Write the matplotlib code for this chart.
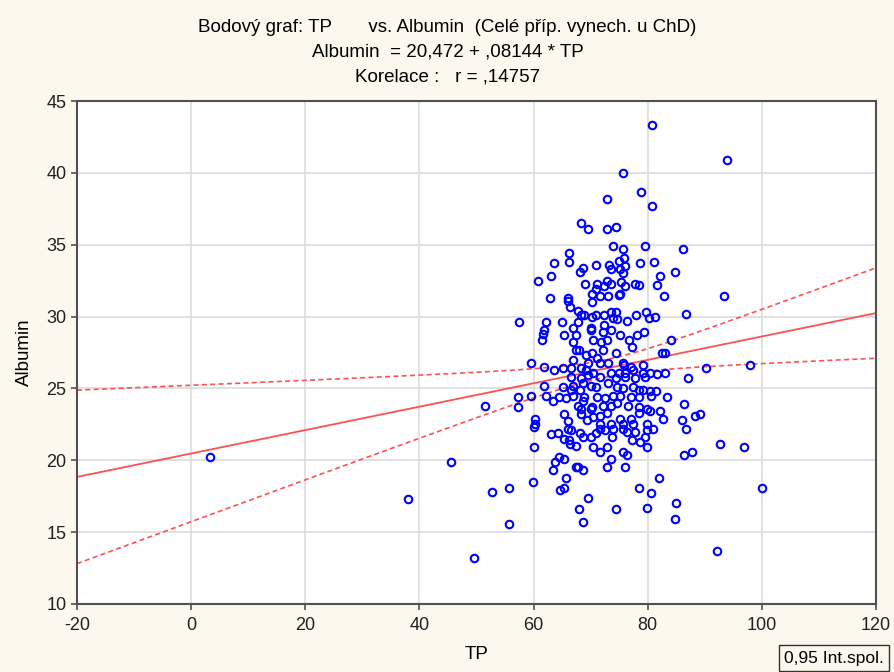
import numpy as np
import matplotlib
matplotlib.use('Agg')
import matplotlib.pyplot as plt

# TP / Albumin values
tp = [3.3, 38.0, 45.6, 49.6, 52.8, 51.5, 55.7, 55.7, 57.3, 57.5, 57.3, 59.6, 59.6,
      80.7, 93.9, 75.7, 78.9, 80.8, 72.8, 68.3, 69.5, 72.8, 74.5,
      93.3, 98.0, 96.8, 100.0, 92.1, 92.6, 90.2, 88.3, 89.2,
      73.9, 75.6, 79.6, 86.2, 66.2, 75.9, 74.9, 66.2, 63.6, 68.6, 70.9, 73.3, 76.1,
      78.7, 81.1, 68.1, 73.5, 75.2, 75.7, 84.8, 63.0, 60.8, 82.2, 71.2, 72.8, 73.5,
      75.4, 77.8, 78.5, 81.7, 69.0, 72.3, 76.1, 70.9, 70.2, 75.2, 75.0, 71.7, 73.0,
      82.9, 62.9, 66.0, 66.0, 70.2, 66.4, 67.7, 68.3, 68.8, 70.2, 71.0, 72.3, 73.5,
      74.5, 74.0, 74.7, 76.4, 78.0, 79.7, 80.3, 81.3, 86.7, 62.2, 64.9, 67.7, 72.3, 70.0,
      61.8, 61.4, 61.6, 65.3, 66.9, 67.4, 70.0, 70.5, 72.1, 72.8, 73.5, 75.2, 76.8,
      77.3, 78.2, 79.4, 84.1, 66.9, 67.4, 67.9, 71.9, 72.1, 69.1, 70.3, 71.2, 74.5,
      66.9, 69.6, 71.7, 73.1, 75.7, 77.0, 75.9, 79.2, 83.1, 82.5, 61.8, 65.1, 66.5,
      63.6, 68.3, 69.1, 70.5, 73.5, 74.9, 76.1, 77.5, 79.2, 80.4, 81.6, 83.1, 87.1,
      66.5, 68.3, 69.6, 71.7, 74.4, 76.1, 77.7, 79.6, 61.8, 65.1, 66.9, 68.6, 70.0,
      70.9, 73.0, 74.7, 75.7, 77.5, 78.4, 79.2, 66.5, 68.1, 62.2, 64.4, 63.4, 65.6,
      66.9, 68.8, 68.6, 71.2, 72.6, 73.9, 75.2, 77.0, 78.4, 80.4, 81.5, 80.6, 83.4,
      67.7, 68.3, 70.3, 72.1, 73.5, 74.7, 76.6, 78.4, 79.9, 86.4, 65.3, 68.3, 70.0,
      70.5, 71.7, 72.8, 75.2, 77.0, 78.4, 80.4, 82.2, 82.7, 86.0, 60.2, 60.2, 66.0,
      69.3, 71.7, 73.5, 75.7, 77.5, 79.9,
      60.0, 63.0, 64.3, 65.3, 66.0, 66.5, 66.2, 66.4, 67.4, 68.1, 68.6, 70.0, 70.9,
      71.7, 72.6, 73.7, 74.0, 75.7, 76.4, 77.8, 77.3, 78.7, 79.6, 79.9, 81.0, 86.7,
      60.0, 70.5, 71.6, 72.8, 75.7, 76.4, 79.9, 86.4, 87.8, 64.4, 65.3, 63.8, 73.5,
      63.4, 67.4, 67.7, 68.6, 72.8, 76.1, 59.9, 65.6, 64.6, 65.3, 69.5, 67.9, 68.6,
      74.5, 78.4, 80.6, 81.9, 79.9, 85.0, 84.7]

albumin = [20.2, 17.3, 19.9, 13.2, 17.8, 23.8, 18.1, 15.6, 23.7, 29.6, 24.4, 24.5, 26.8,
           43.3, 40.9, 40.0, 38.7, 37.7, 38.2, 36.5, 36.1, 36.1, 36.2,
           31.4, 26.6, 20.9, 18.1, 13.7, 21.1, 26.4, 23.1, 23.2,
           34.9, 34.7, 34.9, 34.7, 34.4, 34.1, 33.9, 33.8, 33.7, 33.4, 33.6, 33.6, 33.5,
           33.7, 33.8, 33.1, 33.3, 33.3, 33.0, 33.1, 32.8, 32.5, 32.8, 32.3, 32.5, 32.3,
           32.4, 32.3, 32.2, 32.2, 32.3, 32.1, 32.1, 31.9, 31.6, 31.6, 31.5, 31.4, 31.4,
           31.4, 31.3, 31.3, 31.1, 31.0, 30.7, 30.4, 30.1, 30.1, 30.0, 30.1, 30.1, 30.3,
           30.3, 29.9, 29.8, 29.7, 30.1, 30.3, 29.9, 30.0, 30.2, 29.6, 29.6, 29.6, 29.4, 29.2,
           29.1, 28.4, 28.8, 28.7, 29.2, 28.7, 29.1, 28.4, 28.9, 28.4, 29.1, 28.7, 28.4,
           27.9, 28.7, 28.9, 28.4, 28.2, 27.7, 27.7, 28.2, 27.7, 27.3, 27.5, 27.1, 27.5,
           27.0, 26.8, 26.8, 26.8, 26.8, 26.5, 26.6, 26.6, 27.5, 27.5, 26.5, 26.4, 26.4,
           26.3, 26.4, 26.3, 26.1, 26.1, 26.1, 26.1, 26.3, 26.1, 26.1, 26.0, 26.1, 25.7,
           25.8, 25.7, 25.9, 25.8, 25.7, 25.8, 25.7, 25.8, 25.2, 25.1, 25.2, 25.4, 25.2,
           25.1, 25.4, 25.1, 25.0, 25.1, 24.9, 24.9, 24.9, 24.9, 24.5, 24.4, 24.1, 24.3,
           24.5, 24.4, 24.1, 24.4, 24.3, 24.5, 24.5, 24.4, 24.4, 24.8, 24.8, 24.5, 24.4,
           23.8, 23.6, 23.7, 23.8, 23.8, 24.0, 23.8, 23.7, 23.6, 23.9, 23.2, 23.2, 23.6,
           23.0, 23.1, 23.3, 22.9, 22.9, 23.3, 23.4, 23.4, 22.9, 22.8, 22.9, 22.5, 22.7,
           22.8, 22.5, 22.5, 22.5, 22.5, 22.5,
           22.3, 21.8, 21.9, 21.5, 22.2, 22.1, 21.4, 21.1, 21.0, 21.9, 21.6, 21.6, 21.9,
           22.2, 22.1, 21.6, 22.2, 22.2, 22.0, 22.0, 21.4, 21.3, 21.6, 22.1, 22.2, 22.2,
           20.9, 20.9, 20.6, 20.9, 20.6, 20.4, 20.9, 20.4, 20.6, 20.2, 20.1, 19.9, 20.1,
           19.3, 19.5, 19.5, 19.3, 19.5, 19.5, 18.5, 18.8, 17.9, 18.1, 17.4, 16.6, 15.7,
           16.6, 18.1, 17.7, 18.8, 16.7, 17.0, 15.9]

# regression from the chart title
intercept = 20.472
slope = 0.08144
conf = 0.95
t_val = 1.968

bg = '#fdf8ee'
blue = '#0000ff'
red = '#ff5050'

x = np.array(tp)
y = np.array(albumin)
n = len(x)
resid = y - (intercept + slope * x)
s = np.sqrt(np.sum(resid ** 2) / (n - 2))
sxx = np.sum((x - x.mean()) ** 2)

xs = np.linspace(-20, 120, 300)
fit = intercept + slope * xs
half = t_val * s * np.sqrt(1.0 / n + (xs - x.mean()) ** 2 / sxx)

plt.rcParams['font.family'] = ['Liberation Sans', 'DejaVu Sans']
plt.rcParams['axes.unicode_minus'] = False

fig = plt.figure(figsize=(8.95, 6.72), dpi=100, facecolor=bg)
ax = fig.add_axes([77 / 895, 1 - 604 / 672, 799 / 895, 503 / 672])
ax.set_facecolor('white')

ax.plot(x, y, 'o', mfc='none', mec=blue, ms=5.4, mew=1.5, zorder=3)
ax.plot(xs, fit, '-', color=red, lw=1.3, zorder=2)
ax.plot(xs, fit + half, '--', color=red, lw=1.2, dashes=(3, 2), zorder=2)
ax.plot(xs, fit - half, '--', color=red, lw=1.2, dashes=(3, 2), zorder=2)

ax.set_xlim(-20, 120)
ax.set_ylim(10, 45)
ax.set_xticks(np.arange(-20, 121, 20))
ax.set_yticks(np.arange(10, 46, 5))
ax.grid(True, color='#dcdcdc', lw=1.2, zorder=0)
ax.set_axisbelow(True)
for sp in ax.spines.values():
    sp.set_color('#505050')
    sp.set_linewidth(1.5)
ax.tick_params(axis='both', labelsize=13, color='#505050', length=4, width=1.2,
               labelcolor='#222222')
ax.tick_params(axis='x', pad=5)

ax.set_xlabel('TP', fontsize=13.5, labelpad=9)
ax.set_ylabel('Albumin', fontsize=13.5, labelpad=10)

fig.text(0.5, 1 - 27 / 672, 'Bodový graf: TP       vs. Albumin  (Celé příp. vynech. u ChD)',
         ha='center', va='center', fontsize=13.5)
fig.text(0.5, 1 - 52 / 672, 'Albumin  = 20,472 + ,08144 * TP',
         ha='center', va='center', fontsize=13.5)
fig.text(0.5, 1 - 77 / 672, 'Korelace :   r = ,14757',
         ha='center', va='center', fontsize=13.5)

fig.text(784 / 895, 1 - 658 / 672, '%s Int.spol.' % str(conf).replace('.', ','),
         ha='left', va='center', fontsize=12.5,
         bbox=dict(boxstyle='square,pad=0.3', fc=bg, ec='#333333', lw=1))

fig.savefig('out.png', dpi=100, facecolor=bg)
